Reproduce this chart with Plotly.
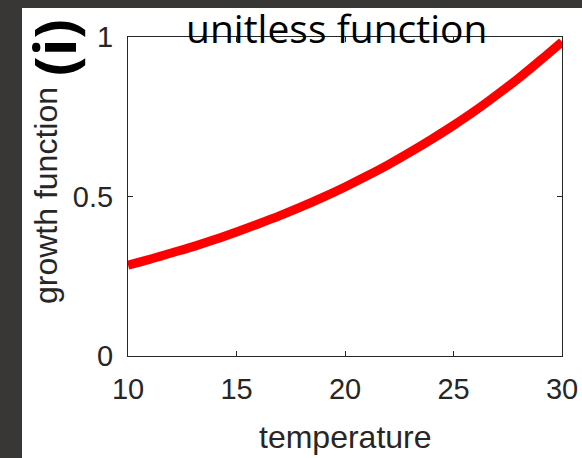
import plotly.graph_objects as go

# growth function sampled once per degree
temperature = [10, 11, 12, 13, 14, 15, 16, 17, 18, 19, 20,
               21, 22, 23, 24, 25, 26, 27, 28, 29, 30]
growth = [0.285, 0.303, 0.323, 0.343, 0.365, 0.389, 0.414, 0.440, 0.468, 0.498, 0.530,
          0.564, 0.600, 0.639, 0.680, 0.723, 0.769, 0.819, 0.871, 0.927, 0.985]

x_ticks = [10, 15, 20, 25, 30]
y_ticks = [0, 0.5, 1]
y_tick_text = ["0", "0.5", "1"]

W, H = 582, 458
L, R, T, B = 128, 20, 37, 102
pw, ph = W - L - R, H - T - B


def px(x):
    return (x - L) / pw


def py(y):
    return (H - B - y) / ph


axis_color = "#262626"
tick_font = dict(family="Liberation Sans, Arial, sans-serif", size=29, color=axis_color)
label_font = dict(family="Liberation Sans, Arial, sans-serif", size=32, color=axis_color)

fig = go.Figure()
fig.add_trace(go.Scatter(
    x=temperature, y=growth, mode="lines",
    line=dict(color="#ff0000", width=9, shape="spline", smoothing=1),
    cliponaxis=False, hoverinfo="skip", showlegend=False,
))

common = dict(showline=True, linecolor=axis_color, linewidth=1, mirror="ticks",
              ticks="inside", ticklen=5, tickwidth=1, tickcolor=axis_color,
              showgrid=False, zeroline=False, tickfont=tick_font, automargin=False)

fig.update_xaxes(range=[10, 30], tickvals=x_ticks, ticklabelstandoff=7, **common)
fig.update_yaxes(range=[0, 1], tickvals=y_ticks, ticktext=y_tick_text, ticklabelstandoff=8, **common)

fig.update_layout(
    width=W, height=H,
    margin=dict(l=L, r=R, t=T, b=B, autoexpand=False),
    paper_bgcolor="white", plot_bgcolor="white",
    shapes=[
        dict(type="rect", xref="paper", yref="paper", layer="below",
             x0=px(0), x1=px(22), y0=py(H), y1=py(0),
             fillcolor="#393735", line=dict(width=0)),
        dict(type="rect", xref="paper", yref="paper", layer="below",
             x0=px(0), x1=px(W), y0=py(8), y1=py(0),
             fillcolor="#393735", line=dict(width=0)),
    ],
    annotations=[
        dict(text="unitless function", xref="paper", yref="paper",
             x=px(336), y=py(28), xanchor="center", yanchor="middle", borderpad=0,
             showarrow=False, font=dict(family="Open Sans, sans-serif", size=39, color="black")),
        dict(text="growth function", xref="paper", yref="paper",
             x=px(46), y=py(196), xanchor="center", yanchor="middle", textangle=-90,
             showarrow=False, font=label_font),
        dict(text="temperature", xref="paper", yref="paper",
             x=px(345), y=py(437), xanchor="center", yanchor="middle",
             showarrow=False, font=label_font),
        dict(text="<b>(i)</b>", xref="paper", yref="paper",
             x=px(54), y=py(48), xanchor="center", yanchor="middle", textangle=-90,
             showarrow=False, font=dict(family="Open Sans, sans-serif", size=58, color="black")),
    ],
)

fig.write_html("out.html")
